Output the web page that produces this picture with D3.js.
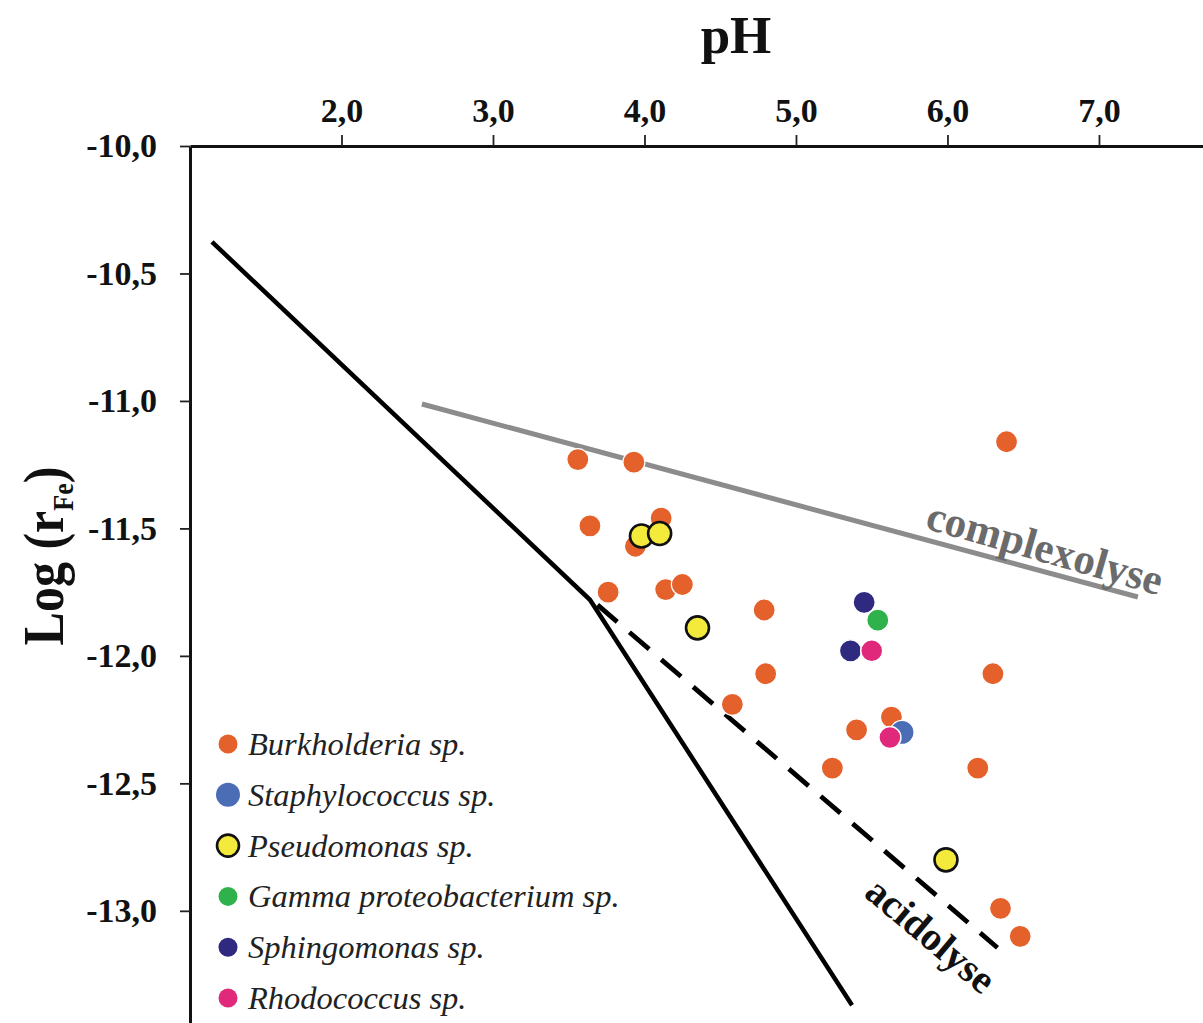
<!DOCTYPE html>
<html>
<head>
<meta charset="utf-8">
<script src="https://cdn.jsdelivr.net/npm/d3@7"></script>
<style>
  html, body { margin: 0; padding: 0; background: #fff; }
  svg { display: block; }
  text { font-family: "Liberation Serif", "Times New Roman", serif; }
</style>
</head>
<body>
<svg id="chart" width="1203" height="1023"></svg>
<script>
// ---------- data ----------
const xTicks = [2, 3, 4, 5, 6, 7];
const yTicks = [-10, -10.5, -11, -11.5, -12, -12.5, -13];

const seriesNames = ["Burkholderia sp.", "Staphylococcus sp.", "Pseudomonas sp.",
  "Gamma proteobacterium sp.", "Sphingomonas sp.", "Rhodococcus sp."];

// [pH, log(rFe)]
const burkholderia = [
  [3.56, -11.23], [3.93, -11.24], [3.64, -11.49], [4.11, -11.46], [3.94, -11.57],
  [3.76, -11.75], [4.14, -11.74], [4.25, -11.72], [4.79, -11.82], [4.80, -12.07],
  [4.58, -12.19], [5.40, -12.29], [5.63, -12.24], [5.24, -12.44], [6.20, -12.44],
  [6.30, -12.07], [6.39, -11.16], [6.35, -12.99], [6.48, -13.10]
];
const staphylococcus = [[5.70, -12.30]];
const pseudomonas = [[3.98, -11.53], [4.10, -11.52], [4.35, -11.89], [5.99, -12.80]];
const gamma = [[5.54, -11.86]];
const sphingomonas = [[5.45, -11.79], [5.36, -11.98]];
const rhodococcus = [[5.50, -11.98], [5.62, -12.32]];

// boundary lines
const acidolyseSolid = [[1.145, -10.376], [3.64, -11.78], [5.37, -13.37]];
const acidolyseDashed = [[3.69, -11.80], [6.33, -13.145]];
const complexolyseLine = [[2.531, -11.012], [7.257, -11.769]];

// annotation anchors (data units)
const annotations = [
  { text: "complexolyse", at: [6.644, -11.576] },
  { text: "acidolyse", at: [5.891, -13.095] }
];

// ---------- setup ----------
const svg = d3.select("#chart");
const x = d3.scaleLinear().domain([1, 7.69]).range([190, 1203.5]);
const y = d3.scaleLinear().domain([-10, -13.44]).range([146, 1023]);

const loc = d3.formatLocale({ decimal: ",", thousands: ".", grouping: [3], currency: ["", ""], minus: "-" });
const fmt = loc.format(".1f");

// ---------- lines ----------
const line = d3.line().x(d => x(d[0])).y(d => y(d[1]));

svg.append("path").datum(complexolyseLine)
  .attr("d", line).attr("fill", "none")
  .attr("stroke", "#8c8c8c").attr("stroke-width", 5);

svg.append("path").datum(acidolyseSolid)
  .attr("d", line).attr("fill", "none")
  .attr("stroke", "#000").attr("stroke-width", 4.5)
  .attr("stroke-linejoin", "miter");

svg.append("path").datum(acidolyseDashed)
  .attr("d", line).attr("fill", "none")
  .attr("stroke", "#000").attr("stroke-width", 4.8)
  .attr("stroke-dasharray", "26,16");

// ---------- annotations ----------
const annStyle = {
  "complexolyse": { size: 43, fill: "#6b6b6b", angle: 16 },
  "acidolyse": { size: 40, fill: "#111", angle: 40 }
};
annotations.forEach(a => {
  const s = annStyle[a.text];
  svg.append("text")
    .attr("transform", `translate(${x(a.at[0])},${y(a.at[1])}) rotate(${s.angle})`)
    .attr("text-anchor", "middle")
    .attr("dominant-baseline", "central")
    .attr("font-weight", "bold")
    .attr("font-size", s.size)
    .attr("fill", s.fill)
    .text(a.text);
});

// ---------- points ----------
const styles = {
  "Burkholderia sp.": { fill: "#e4612b", r: 11, stroke: "#fff", sw: 1.2, lr: 9.5 },
  "Staphylococcus sp.": { fill: "#4a6db5", r: 12, stroke: "#fff", sw: 1.2, lr: 12 },
  "Pseudomonas sp.": { fill: "#f4ea3c", r: 11.5, stroke: "#111", sw: 2.6, lr: 11 },
  "Gamma proteobacterium sp.": { fill: "#2fb24b", r: 11, stroke: "#fff", sw: 1.2, lr: 9.5 },
  "Sphingomonas sp.": { fill: "#2f2a80", r: 11, stroke: "#fff", sw: 1.2, lr: 9.5 },
  "Rhodococcus sp.": { fill: "#e0297b", r: 11, stroke: "#fff", sw: 1.5, lr: 9.5 }
};
const drawOrder = [
  ["Burkholderia sp.", burkholderia],
  ["Staphylococcus sp.", staphylococcus],
  ["Sphingomonas sp.", sphingomonas],
  ["Gamma proteobacterium sp.", gamma],
  ["Rhodococcus sp.", rhodococcus],
  ["Pseudomonas sp.", pseudomonas]
];
drawOrder.forEach(([name, pts]) => {
  const s = styles[name];
  svg.append("g").selectAll("circle").data(pts).join("circle")
    .attr("cx", d => x(d[0])).attr("cy", d => y(d[1]))
    .attr("r", s.r).attr("fill", s.fill)
    .attr("stroke", s.stroke).attr("stroke-width", s.sw);
});

// ---------- axes ----------
const gx = svg.append("g").attr("transform", `translate(0,${y(-10)})`)
  .call(d3.axisTop(x).tickValues(xTicks).tickFormat(fmt)
    .tickSize(11).tickSizeOuter(0).tickPadding(13));
const gy = svg.append("g").attr("transform", `translate(${x(1)},0)`)
  .call(d3.axisLeft(y).tickValues(yTicks).tickFormat(fmt)
    .tickSize(10).tickSizeOuter(0).tickPadding(23));

[gx, gy].forEach(g => {
  g.select(".domain").attr("stroke", "#111").attr("stroke-width", 3);
  g.selectAll(".tick line").attr("stroke", "#222").attr("stroke-width", 1.8);
  g.selectAll(".tick text")
    .attr("font-family", "'Liberation Serif', 'Times New Roman', serif")
    .attr("font-weight", "bold").attr("font-size", 34).attr("fill", "#111");
});

// ---------- titles ----------
svg.append("text")
  .attr("x", 736).attr("y", 53)
  .attr("text-anchor", "middle")
  .attr("font-weight", "bold").attr("font-size", 53).attr("fill", "#111")
  .text("pH");

const yl = svg.append("text")
  .attr("transform", "translate(63,556) scale(1.12,1) rotate(-90)")
  .attr("text-anchor", "middle")
  .attr("font-weight", "bold").attr("font-size", 50).attr("fill", "#111");
yl.append("tspan").text("Log (r");
yl.append("tspan").attr("font-size", 26).attr("dy", 9).text("Fe");
yl.append("tspan").attr("dy", -9).text(")");

// ---------- legend ----------
const legend = svg.append("g");
seriesNames.forEach((name, i) => {
  const s = styles[name];
  const cy = 744 + i * 50.8;
  legend.append("circle")
    .attr("cx", 228).attr("cy", cy).attr("r", s.lr)
    .attr("fill", s.fill)
    .attr("stroke", name === "Pseudomonas sp." ? "#111" : "none")
    .attr("stroke-width", 2.6);
  legend.append("text")
    .attr("x", 248).attr("y", cy + 11)
    .attr("font-style", "italic").attr("font-size", 32.5).attr("fill", "#222")
    .text(name);
});
</script>
</body>
</html>
